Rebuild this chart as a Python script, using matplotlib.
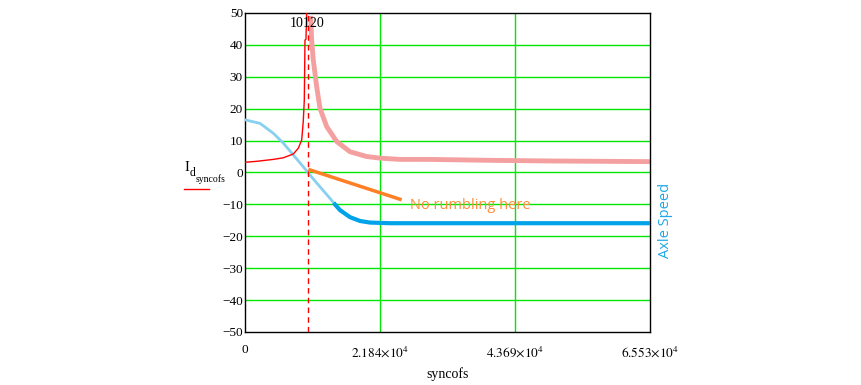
import matplotlib
matplotlib.use("Agg")
import matplotlib.pyplot as plt

# data
resonance_x = 10120

red_x = [0, 1890, 4580, 6200, 7820, 8630, 9180, 9430, 9600, 9710, 9870, 9990]
red_y = [3.2, 3.5, 4.1, 4.6, 5.8, 7.6, 10.2, 16.0, 22.7, 41.5, 41.8, 51.0]

pink_x = [10630, 10790, 11050, 11600, 12140, 13220, 14840, 16990, 19690,
          21850, 25080, 29660, 40000, 50000, 65530]
pink_y = [49.1, 41.5, 35.3, 26.9, 20.1, 14.4, 9.7, 6.5, 5.0,
          4.5, 4.1, 4.1, 3.8, 3.6, 3.4]

light_x = [0, 2430, 4580, 6200, 7820, 9430, 10520, 12140, 13750, 14560]
light_y = [16.5, 15.4, 12.3, 9.2, 5.5, 1.8, -0.8, -4.5, -8.1, -10.0]

dark_x = [14560, 15370, 16990, 18610, 20230, 23460, 65530]
dark_y = [-10.0, -11.8, -14.0, -15.2, -15.7, -15.9, -15.9]

orange_x = [10520, 25080]
orange_y = [0.8, -8.4]

xticks = [0, 21840, 43690, 65530]
xtick_labels = ["0", r"$2.184{\times}10^{4}$", r"$4.369{\times}10^{4}$", r"$6.553{\times}10^{4}$"]
yticks = list(range(-50, 51, 10))

plt.rcParams['font.family'] = ['Liberation Serif', 'DejaVu Serif']
plt.rcParams['mathtext.fontset'] = 'stix'

fig = plt.figure(figsize=(8.62, 3.85), dpi=100)
ax = fig.add_axes([0.2842, 0.1377, 0.4698, 0.8286])

grid_green = "#00e600"
for yv in yticks[1:-1]:
    ax.axhline(yv, color=grid_green, lw=1, zorder=1)
for xv in xticks[1:-1]:
    ax.axvline(xv, color=grid_green, lw=1, zorder=1)

ax.plot(pink_x, pink_y, color="#f4a0a0", lw=3.5, solid_capstyle="butt", zorder=2)
ax.plot(light_x, light_y, color="#87d0f0", lw=2, zorder=3)
ax.plot(dark_x, dark_y, color="#00a2e8", lw=3, zorder=3)
ax.plot(orange_x, orange_y, color="#ff7f27", lw=2.5, zorder=4)
ax.plot(red_x, red_y, color="#ff0000", lw=1, zorder=5)
ax.axvline(resonance_x, color="#ff0000", lw=1, ls=(0, (4, 3)), zorder=5)

ax.set_xlim(0, 65530)
ax.set_ylim(-50, 50)
ax.set_xticks(xticks)
ax.set_xticklabels(xtick_labels)
ax.set_yticks(yticks)
ax.tick_params(length=0, labelsize=9.5, pad=1.5)
ax.tick_params(axis='x', pad=9)
for s in ax.spines.values():
    s.set_color("black")
    s.set_linewidth(1)

ax.set_xlabel("syncofs", fontsize=10, labelpad=6)

ax.text(resonance_x, 48.8, "10120", ha="center", va="top", fontsize=10, zorder=6)

ax.text(26660, -10.4, "No rumbling here", color="#ff8c3a", fontsize=10.5,
        family=["Open Sans", "DejaVu Sans"], ha="left", va="center")

fig.text(0.7715, 0.427, "Axle Speed", color="#1ea8e8", fontsize=10.5,
         family=["Open Sans", "DejaVu Sans"], rotation=90, ha="center", va="center")

# y label: I with subscript d, sub-subscript syncofs, and a red legend stroke below
W, H = 862.0, 385.0
fig.text(184 / W, 1 - 171 / H, "I", fontsize=10.5, ha="left", va="baseline")
fig.text(190 / W, 1 - 175.5 / H, "d", fontsize=8.5, ha="left", va="baseline")
fig.text(196 / W, 1 - 182.5 / H, "syncofs", fontsize=7, ha="left", va="baseline")
fig.lines.append(plt.Line2D([184 / W, 209 / W], [1 - 189 / H, 1 - 189 / H],
                            color="#ff0000", lw=1, transform=fig.transFigure))

fig.savefig("out.png", dpi=100)
